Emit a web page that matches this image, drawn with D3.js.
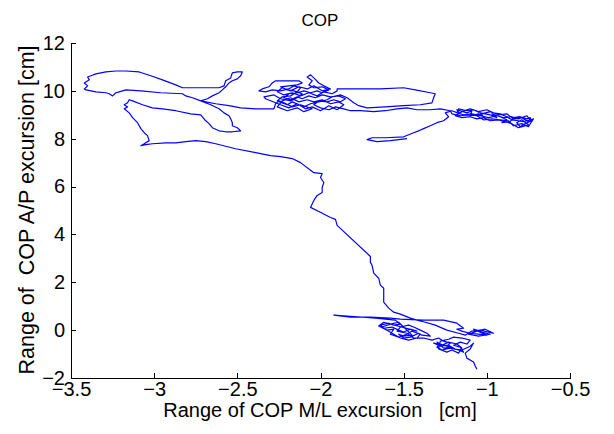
<!DOCTYPE html>
<meta charset="utf-8">
<style>
body {
  margin: 0;
  background: #fff;
}

text {
  font-family: "Liberation Sans", Arial, Helvetica, sans-serif;
  fill: #000;
}

.axis path, .axis line {
  stroke: #000;
  stroke-width: 1;
  shape-rendering: crispEdges;
}

.cop {
  fill: none;
  stroke: #0000ff;
  stroke-width: 1.2;
  stroke-linejoin: round;
}
</style>
<body>
<script src="https://d3js.org/d3.v7.min.js"></script>
<script>

// centre of pressure trace (cm)
var copX = [
  -1.48, -1.58, -1.66, -1.72, -1.69, -1.61, -1.50, -1.44, -1.41, -1.38, -1.34, -1.30, -1.26,
  // right cluster
  -1.23, -1.25, -1.21, -1.16, -1.18, -1.12, -1.09, -1.10, -1.05, -1.02,
  -1.04, -0.98, -0.94, -0.97, -0.92, -0.88, -0.91, -0.86, -0.84, -0.80,
  -0.76, -0.74, -0.73, -0.77, -0.80, -0.82, -0.79, -0.75, -0.81, -0.85,
  -0.89, -0.93, -0.98, -1.02, -1.06, -1.10, -1.15, -1.19, -1.15, -1.10,
  -1.05, -1.00, -0.96, -0.92, -0.88, -0.85, -0.81, -0.78, -0.74, -0.76,
  -0.81, -0.85, -0.90, -0.94, -0.99, -1.04, -1.09, -1.14, -1.18,
  -1.17, -1.12, -1.08, -1.03, -0.98, -0.93, -0.88, -0.84, -0.79, -0.75, -0.72,
  -0.75, -0.79, -0.84, -0.87, -0.92, -0.97, -1.02, -1.06, -1.11, -1.16, -1.21,
  -1.22, -1.28, -1.34, -1.42, -1.48, -1.54, -1.61, -1.68, -1.76, -1.82,
  // cluster near -2
  -1.86, -1.91, -1.95, -2.00, -2.04, -2.01, -1.96, -1.92, -1.88, -1.85,
  -1.89, -1.94, -1.99, -2.03, -2.07, -2.11, -2.14, -2.18, -2.22, -2.19,
  -2.14, -2.10, -2.06, -2.02, -1.99, -1.95, -1.99, -2.04, -2.07, -2.05,
  -2.08, -2.06, -2.04, -2.01, -1.98, -1.94,
  -1.99, -2.04, -2.08, -2.13, -2.18, -2.23, -2.26, -2.22, -2.17, -2.12, -2.07, -2.02, -1.98, -1.93, -1.90,
  -1.90, -1.76, -1.64, -1.50,
  -1.43, -1.34, -1.31, -1.32, -1.33, -1.40, -1.50, -1.61, -1.72, -1.77,
  -1.80, -1.84, -1.88, -1.93, -1.96, -2.01, -2.06, -2.10, -2.13, -2.17,
  -2.20, -2.23, -2.26, -2.23, -2.18, -2.14, -2.12, -2.16, -2.19, -2.24,
  -2.29, -2.33, -2.37, -2.35, -2.31, -2.29, -2.27, -2.23, -2.18, -2.13,
  -2.11, -2.14, -2.19, -2.24, -2.20, -2.16, -2.11, -2.14, -2.18, -2.24,
  -2.28, -2.34, -2.33,
  -2.24, -2.19, -2.14, -2.09, -2.05, -2.00, -1.95, -1.90, -1.86, -1.89, -1.94, -1.99, -2.04,
  -2.08, -2.13, -2.18, -2.23, -2.26, -2.20, -2.14, -2.10, -2.05, -2.12, -2.17, -2.22, -2.25,
  -2.27, -2.28, -2.39, -2.48, -2.55, -2.63, -2.72,
  // top left loop
  -2.77, -2.81, -2.83, -2.96, -3.08, -3.17, -3.21, -3.23, -3.25, -3.27,
  -3.29, -3.35, -3.41, -3.42, -3.40, -3.42, -3.39, -3.40, -3.38, -3.35,
  -3.29, -3.23, -3.17, -3.09, -3.02, -2.95, -2.87, -2.83, -2.72, -2.61,
  -2.58, -2.57, -2.54, -2.53, -2.50, -2.47, -2.48, -2.50, -2.53, -2.55,
  -2.57, -2.59, -2.61, -2.65, -2.68, -2.72,
  // middle loop and the drift down
  -2.66, -2.61, -2.58, -2.55, -2.54, -2.53, -2.53, -2.50, -2.48, -2.53,
  -2.57, -2.61, -2.65, -2.67, -2.69, -2.72, -2.78, -2.87, -2.95, -3.01,
  -3.07, -3.13, -3.15, -3.16, -3.18, -3.16, -3.18, -3.15, -3.13, -3.10,
  -3.08, -3.06, -3.04, -3.03, -3.06, -3.08, -3.05, -3.01, -2.93, -2.87,
  -2.81, -2.75, -2.69, -2.63, -2.51, -2.39, -2.30, -2.24, -2.17, -2.12,
  -2.04, -1.99, -2.00, -1.98, -1.99, -1.99, -2.02, -2.04, -2.06, -2.01,
  -1.94, -1.91, -1.90, -1.70, -1.70, -1.69, -1.68, -1.65, -1.64, -1.62,
  -1.62, -1.62, -1.59, -1.56, -1.52, -1.46, -1.42, -1.37,
  // bottom clusters
  -1.31, -1.24, -1.17, -1.13, -1.09, -1.04, -0.99, -0.96,
  -1.01, -1.06, -1.11, -1.05, -0.98, -1.03, -1.08,
  -1.00, -1.05, -1.10, -1.15, -1.18, -1.14, -1.18, -1.26, -1.38, -1.52,
  -1.58, -1.70, -1.82, -1.92, -1.82, -1.67, -1.55, -1.52, -1.56, -1.59,
  -1.64, -1.62, -1.57, -1.53, -1.50, -1.46, -1.42,
  -1.62, -1.65, -1.60, -1.56, -1.58, -1.53, -1.48, -1.45,
  -1.40, -1.42, -1.47, -1.52, -1.57, -1.63, -1.58, -1.53,
  -1.45, -1.50, -1.53, -1.50, -1.46, -1.41, -1.39, -1.34, -1.36, -1.40,
  -1.44, -1.47, -1.52, -1.54, -1.48, -1.44, -1.38, -1.33, -1.29, -1.26,
  -1.22, -1.24, -1.28, -1.30, -1.27, -1.22, -1.17, -1.14, -1.16, -1.20,
  -1.16, -1.12, -1.10, -1.15, -1.20, -1.23, -1.28,
  -1.29, -1.24, -1.21, -1.17, -1.15, -1.18, -1.23, -1.27, -1.30, -1.26, -1.21,
  -1.32, -1.28, -1.23, -1.19, -1.15, -1.10, -1.08, -1.10, -1.13, -1.12,
  -1.08, -1.07, -1.06
];

var copY = [
  8.00, 7.92, 7.88, 7.96, 8.04, 8.04, 8.08, 8.25, 8.33, 8.42, 8.54, 8.67, 8.75,
  // right cluster
  8.92, 9.08, 9.17, 9.04, 9.21, 9.08, 9.17, 8.96, 9.04, 8.92,
  9.08, 9.00, 8.88, 9.04, 8.92, 8.79, 8.67, 8.71, 8.88, 8.92,
  8.83, 8.88, 8.75, 8.63, 8.50, 8.67, 8.79, 8.58, 8.46, 8.63,
  8.71, 8.79, 8.75, 8.88, 8.83, 8.92, 8.88, 8.96, 9.13, 9.25,
  9.13, 9.21, 9.08, 9.04, 8.92, 8.79, 8.75, 8.71, 8.79, 8.96,
  8.83, 8.92, 8.88, 8.96, 8.88, 8.96, 9.04, 9.00, 9.08,
  9.25, 9.17, 9.21, 9.04, 9.13, 9.00, 9.04, 8.83, 8.88, 8.71, 8.83,
  8.50, 8.63, 8.54, 8.75, 8.79, 8.83, 8.79, 8.96, 9.00, 8.96, 9.04,
  9.17, 9.25, 9.21, 9.21, 9.29, 9.25, 9.17, 9.13, 9.17, 9.17,
  // cluster near -2
  9.25, 9.33, 9.21, 9.29, 9.42, 9.58, 9.54, 9.63, 9.54, 9.67,
  9.79, 9.75, 9.83, 9.71, 9.79, 9.67, 9.75, 9.63, 9.71, 9.88,
  9.92, 10.00, 9.92, 10.00, 9.92, 10.04, 10.17, 10.13, 10.25, 10.42,
  10.58, 10.67, 10.54, 10.33, 10.21, 10.08,
  10.00, 10.21, 10.08, 10.17, 10.00, 10.13, 9.96, 9.83, 9.92, 9.79, 9.92, 9.79, 9.96, 9.88, 10.00,
  10.08, 10.08, 10.08, 10.13,
  10.04, 9.92, 9.88, 9.71, 9.50, 9.42, 9.38, 9.33, 9.29, 9.38,
  9.50, 9.71, 9.83, 9.75, 9.63, 9.54, 9.46, 9.33, 9.42, 9.54,
  9.42, 9.50, 9.58, 9.75, 9.79, 9.96, 10.13, 10.21, 10.08, 10.00,
  10.04, 9.96, 10.00, 10.08, 10.17, 10.33, 10.42, 10.42, 10.42, 10.42,
  10.33, 10.25, 10.21, 10.17, 10.04, 10.00, 9.88, 9.71, 9.58, 9.67,
  9.83, 9.75, 9.67,
  9.42, 9.29, 9.46, 9.25, 9.33, 9.17, 9.38, 9.21, 9.42, 9.54, 9.46, 9.63, 9.54,
  9.63, 9.54, 9.71, 9.58, 9.33, 9.17, 9.29, 9.13, 9.25, 9.42, 9.33, 9.50, 9.58,
  9.46, 9.25, 9.25, 9.29, 9.38, 9.46, 9.58,
  // top left loop
  9.71, 9.79, 9.88, 9.92, 10.00, 10.04, 9.96, 9.92, 9.79, 9.88,
  9.92, 9.96, 10.04, 10.08, 10.21, 10.33, 10.46, 10.58, 10.63, 10.71,
  10.79, 10.83, 10.83, 10.79, 10.63, 10.46, 10.25, 10.13, 10.13, 10.13,
  10.21, 10.42, 10.54, 10.75, 10.79, 10.79, 10.63, 10.50, 10.42, 10.33,
  10.17, 10.04, 9.92, 9.79, 9.67, 9.58,
  // middle loop and the drift down
  9.42, 9.25, 9.08, 8.96, 8.83, 8.67, 8.54, 8.46, 8.33, 8.29,
  8.29, 8.33, 8.46, 8.63, 8.75, 9.00, 9.04, 9.17, 9.25, 9.29,
  9.42, 9.58, 9.63, 9.50, 9.42, 9.33, 9.25, 9.08, 8.88, 8.67,
  8.42, 8.25, 8.13, 7.92, 7.79, 7.71, 7.75, 7.79, 7.83, 7.83,
  7.88, 7.92, 7.88, 7.79, 7.58, 7.42, 7.29, 7.25, 7.17, 7.00,
  6.58, 6.54, 6.38, 6.17, 5.96, 5.75, 5.63, 5.42, 5.13, 4.96,
  4.71, 4.63, 4.38, 3.08, 2.83, 2.71, 2.38, 2.17, 1.88, 1.75,
  1.46, 1.17, 0.92, 0.75, 0.67, 0.50, 0.42, 0.33,
  // bottom clusters
  0.21, 0.00, -0.13, -0.21, -0.04, 0.00, -0.08, -0.13,
  0.04, -0.04, -0.17, -0.25, -0.17, -0.08, 0.04,
  -0.21, -0.17, -0.13, -0.04, 0.04, 0.08, 0.29, 0.42, 0.42, 0.46,
  0.50, 0.54, 0.54, 0.63, 0.58, 0.50, 0.42, 0.25, 0.21, 0.29,
  0.21, 0.08, 0.13, 0.00, -0.08, 0.04, -0.04,
  0.33, 0.17, 0.00, 0.04, -0.17, -0.29, -0.17, -0.04,
  -0.17, -0.33, -0.42, -0.33, -0.13, 0.13, 0.25, 0.33,
  -0.21, -0.25, -0.17, -0.33, -0.29, -0.13, -0.21, -0.25, -0.13, 0.00,
  0.13, 0.21, 0.13, -0.04, -0.13, -0.33, -0.33, -0.42, -0.33, -0.46,
  -0.54, -0.67, -0.58, -0.71, -0.83, -0.75, -0.83, -0.92, -0.71, -0.63,
  -0.50, -0.58, -0.42, -0.33, -0.29, -0.38, -0.46,
  -0.79, -0.92, -0.83, -0.96, -0.75, -0.58, -0.50, -0.63, -0.50, -0.75, -0.71,
  -0.54, -0.67, -0.63, -0.79, -0.83, -0.67, -0.54, -0.79, -0.96, -1.17,
  -1.33, -1.50, -1.63
];

var xTicks = [-3.5, -3, -2.5, -2, -1.5, -1, -0.5];
var yTicks = [-2, 0, 2, 4, 6, 8, 10, 12];

var width = 614,
    height = 434;

var x = d3.scaleLinear()
    .domain([-3.5, -0.5])
    .range([71, 570]);

var y = d3.scaleLinear()
    .domain([-2, 12])
    .range([378, 43]);

var svg = d3.select("body").append("svg")
    .attr("width", width)
    .attr("height", height);

svg.append("g")
    .attr("class", "axis")
    .attr("transform", "translate(0,378)")
    .call(d3.axisBottom(x)
      .tickValues(xTicks)
      .tickFormat(d3.format("~g"))
      .tickSizeInner(-5)
      .tickSizeOuter(0)
      .tickPadding(4))
    .selectAll("text")
    .style("font-size", "20px");

svg.append("g")
    .attr("class", "axis")
    .attr("transform", "translate(71,0)")
    .call(d3.axisLeft(y)
      .tickValues(yTicks)
      .tickSizeInner(-5)
      .tickSizeOuter(0)
      .tickPadding(6))
    .selectAll("text")
    .style("font-size", "20px");

var line = d3.line()
    .x(function(i) { return x(copX[i]); })
    .y(function(i) { return y(copY[i]); });

var n = Math.min(copX.length, copY.length);
if (copX.length !== copY.length) console.log("length mismatch", copX.length, copY.length);

svg.append("path")
    .attr("class", "cop")
    .attr("d", line(d3.range(n)));

svg.append("text")
    .attr("x", 320)
    .attr("y", 26)
    .attr("text-anchor", "middle")
    .style("font-size", "17px")
    .text("COP");

svg.append("text")
    .attr("x", 320)
    .attr("y", 417)
    .attr("text-anchor", "middle")
    .style("font-size", "20px")
    .style("white-space", "pre")
    .text("Range of COP M/L excursion   [cm]");

svg.append("text")
    .attr("transform", "translate(34,210) rotate(-90)")
    .attr("text-anchor", "middle")
    .style("font-size", "21.5px")
    .style("white-space", "pre")
    .text("Range of  COP A/P excursion [cm]");

</script>
